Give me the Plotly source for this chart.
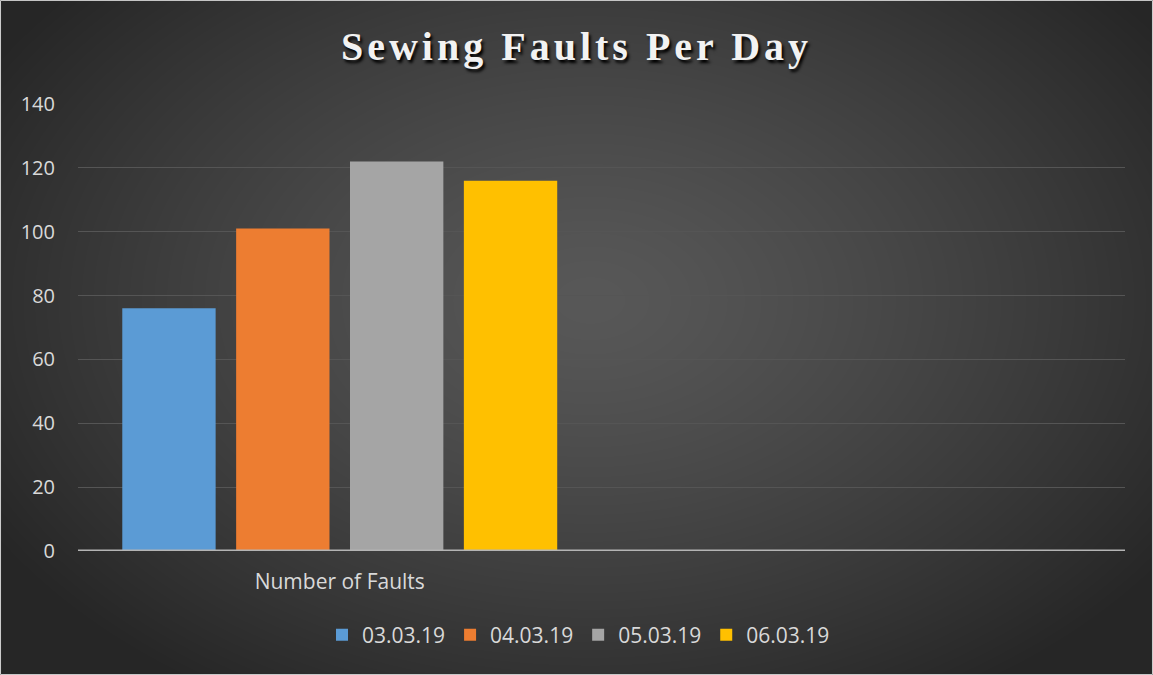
import base64, struct, zlib
import numpy as np
import plotly.graph_objects as go

categories = ["Number of Faults"]
dates = ["03.03.19", "04.03.19", "05.03.19", "06.03.19"]
faults = [76, 101, 122, 116]
colors = ["#5b9bd5", "#ed7d31", "#a5a5a5", "#ffc000"]
y_ticks = [0, 20, 40, 60, 80, 100, 120, 140]

W, H = 1153, 675
L, R, T, B = 78, 28, 104, 124


def radial_png(w, h):
    yy, xx = np.mgrid[0:h, 0:w].astype(float)
    cx, cy = 590.0, 300.0
    r = np.sqrt(((xx - cx) / 700.0) ** 2 + ((yy - cy) / 470.0) ** 2)
    r = np.clip(r, 0, 1.0)
    v = 88 - (88 - 38) * r ** 1.3
    img = np.clip(v, 0, 255).astype(np.uint8)
    raw = b"".join(b"\x00" + img[i].tobytes() for i in range(h))

    def chunk(t, d):
        c = struct.pack(">I", len(d)) + t + d
        return c + struct.pack(">I", zlib.crc32(t + d) & 0xFFFFFFFF)

    png = b"\x89PNG\r\n\x1a\n" + chunk(b"IHDR", struct.pack(">IIBBBBB", w, h, 8, 0, 0, 0, 0))
    png += chunk(b"IDAT", zlib.compress(raw, 9)) + chunk(b"IEND", b"")
    return "data:image/png;base64," + base64.b64encode(png).decode()


fig = go.Figure()
for d, v, c in zip(dates, faults, colors):
    fig.add_trace(go.Bar(x=categories, y=[v], name=d, marker=dict(color=c, line=dict(width=0))))

pw = W - L - R
ph = H - T - B
fig.add_layout_image(dict(source=radial_png(W, H), xref="paper", yref="paper",
                          x=-L / pw, y=1 + T / ph, sizex=W / pw, sizey=H / ph,
                          xanchor="left", yanchor="top", sizing="stretch", layer="below"))

fig.update_layout(
    width=W, height=H,
    margin=dict(l=L, r=R, t=T, b=B, pad=0),
    paper_bgcolor="#333333", plot_bgcolor="rgba(0,0,0,0)",
    barmode="group", bargap=0.13, bargroupgap=0.18,
    title=dict(text='<span style="letter-spacing:4px"><b>Sewing Faults Per Day</b></span>',
               x=0.5, xanchor="center", y=0.932, yanchor="middle",
               font=dict(family="Liberation Serif", size=40, color="#f2f2f2", shadow="2px 3px 3px #000000")),
    font=dict(family="Open Sans", color="#d9d9d9", size=20),
    legend=dict(orientation="h", x=(336 - 14 - L) / pw, xanchor="left", y=-0.188, yanchor="middle",
                font=dict(size=21, color="#d9d9d9"), bgcolor="rgba(0,0,0,0)", traceorder="normal",
                itemwidth=30),
    xaxis=dict(type="category", range=[-0.5, 1.5], showgrid=False, showline=False, ticks="",
               ticklabelstandoff=16, tickfont=dict(size=21, color="#d9d9d9"), fixedrange=True),
    yaxis=dict(range=[0, 140], tickvals=y_ticks, showgrid=True, gridcolor="#555555", gridwidth=1,
               zeroline=False, showline=False, ticks="", ticklabelstandoff=22,
               tickfont=dict(size=20, color="#d9d9d9")),
    showlegend=True,
)
# axis baseline
fig.add_hline(y=0, line=dict(color="#b4b4b4", width=3), layer="above")
# outer frame
fig.add_shape(type="rect", xref="paper", yref="paper", x0=-L / pw + 0.0005, x1=1 + R / pw - 0.0005,
              y0=-B / ph + 0.001, y1=1 + T / ph - 0.001, line=dict(color="#d0d0d0", width=1), layer="above")

fig.write_html("out.html", config={"displayModeBar": False},
               post_script="document.body.style.margin='0';document.body.style.overflow='hidden';")
